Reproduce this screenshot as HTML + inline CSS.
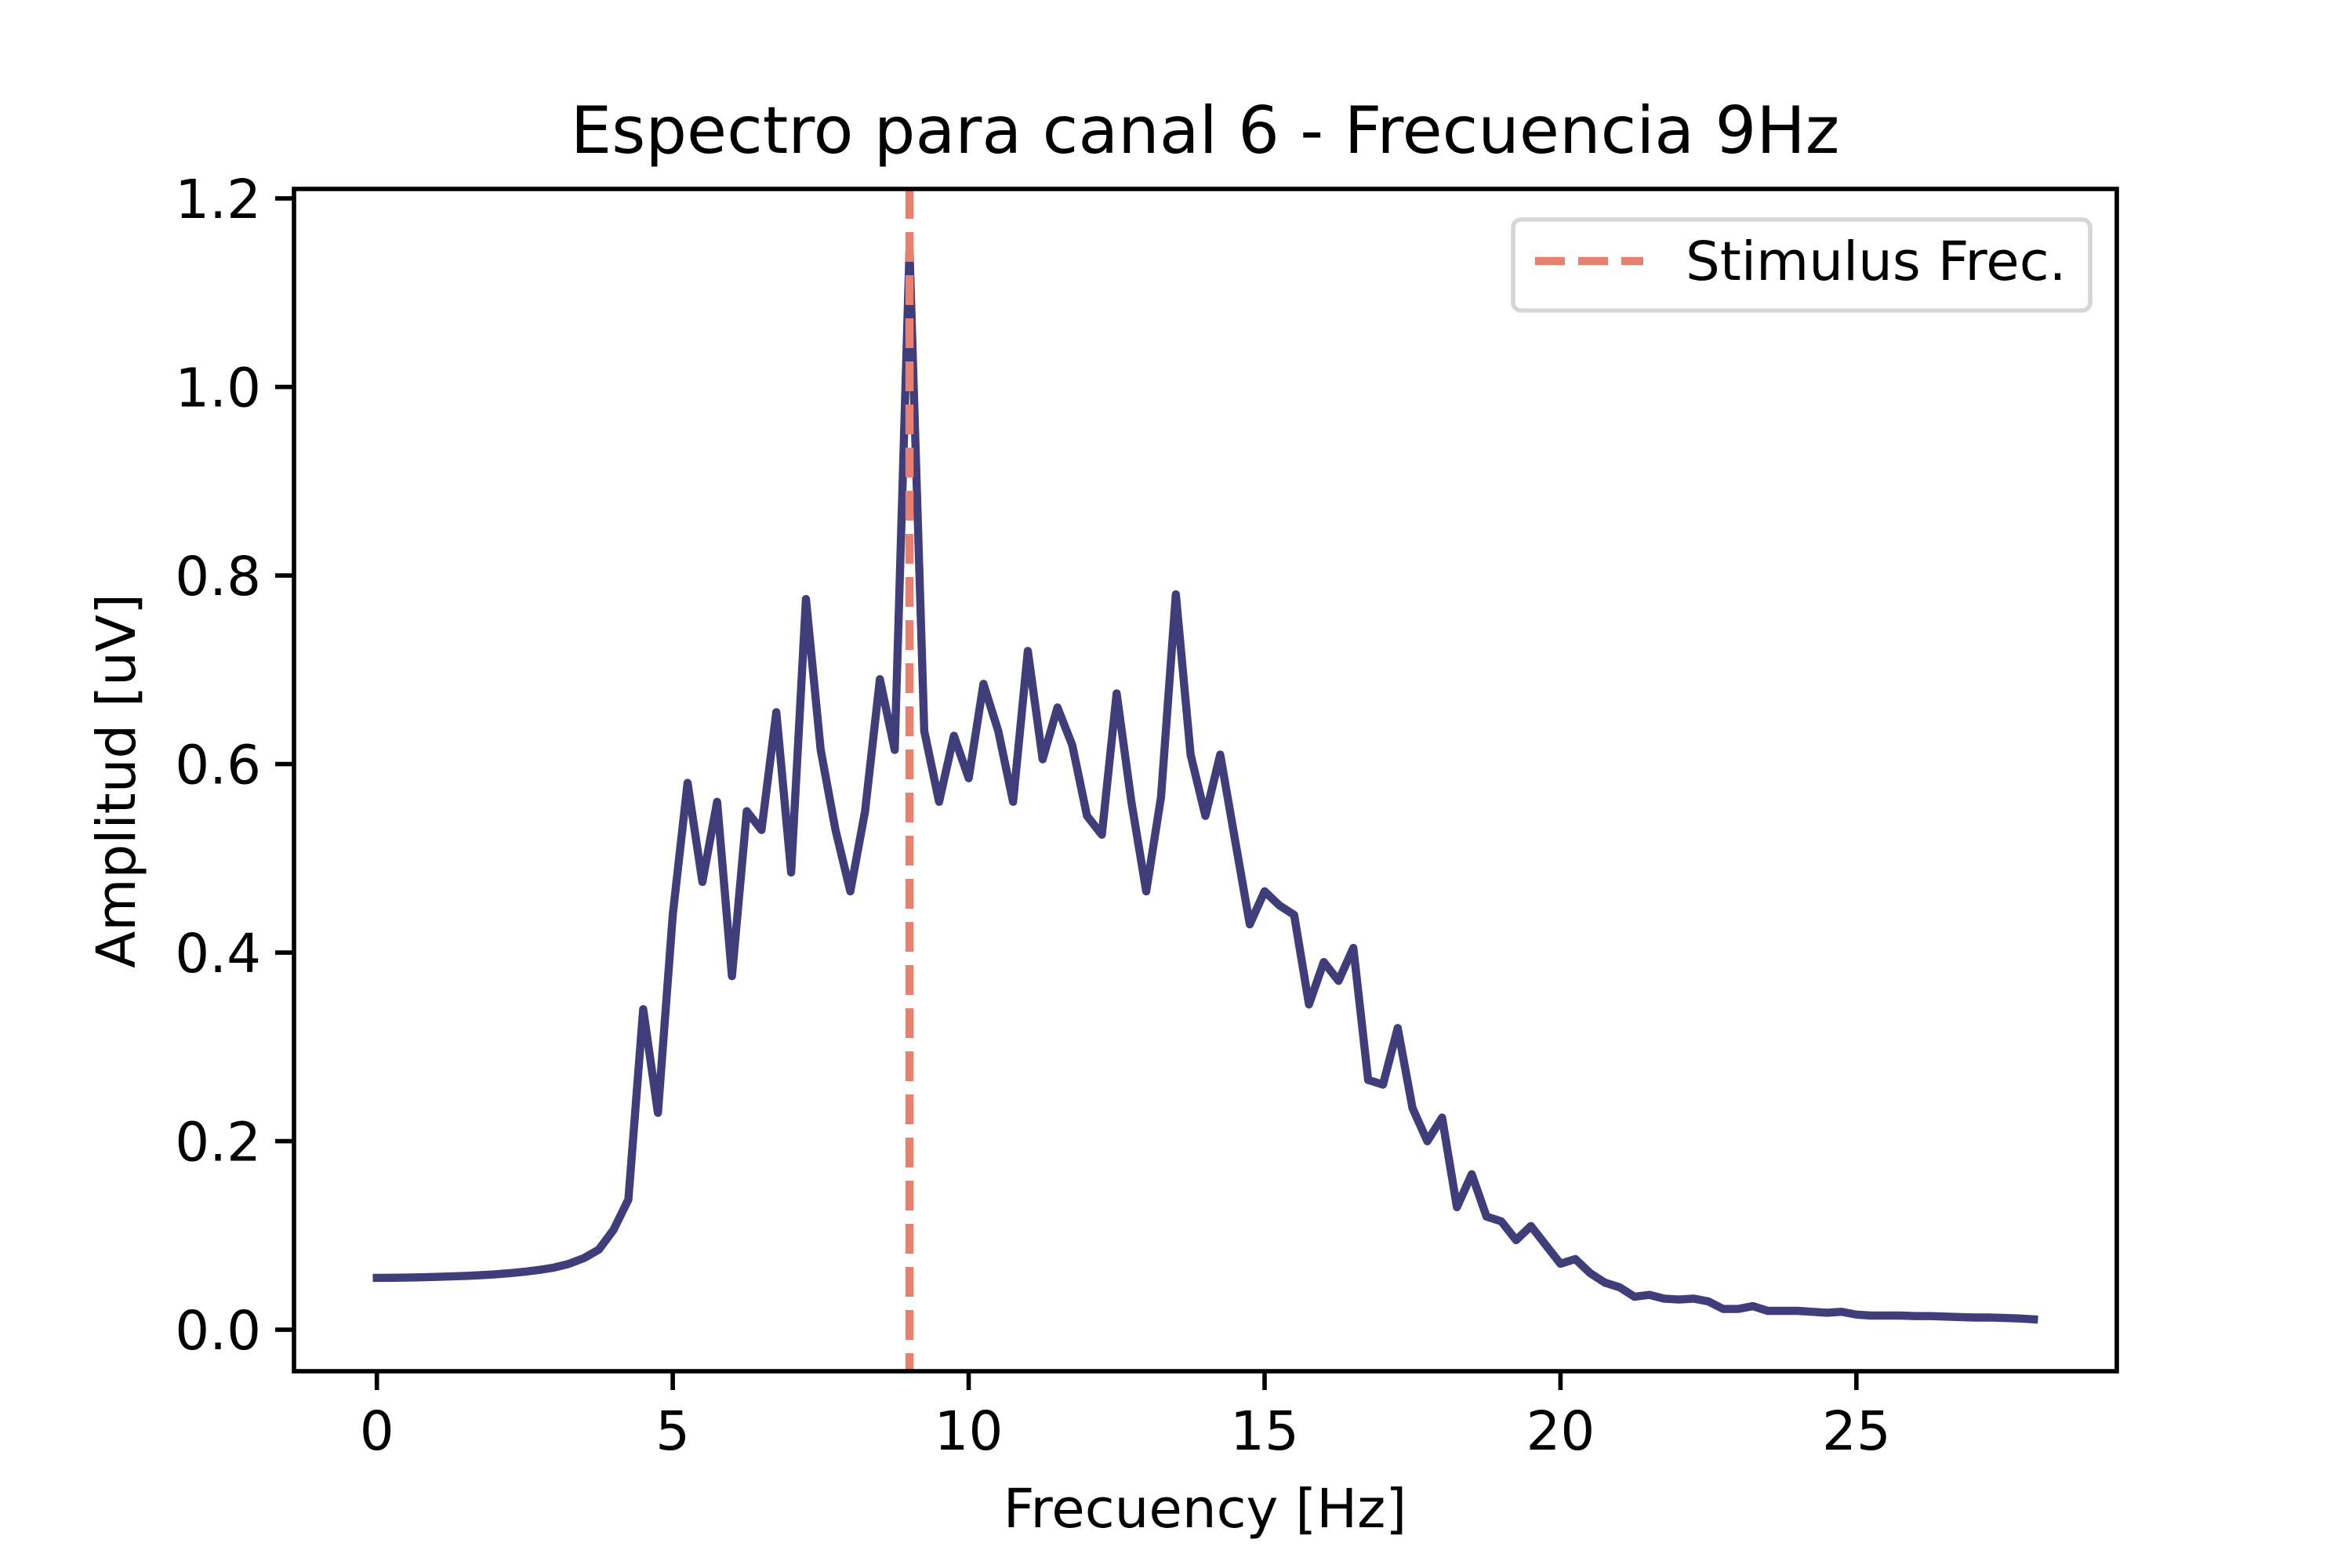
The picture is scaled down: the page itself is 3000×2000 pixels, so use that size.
<!DOCTYPE html>
<html><head><meta charset="utf-8"><style>
html,body{margin:0;padding:0;background:#fff;}
svg{display:block;font-family:"DejaVu Sans","Liberation Sans",sans-serif;}
</style></head><body>
<svg id="chart" width="3000" height="2000" viewBox="0 0 3000 2000" xmlns="http://www.w3.org/2000/svg">
<rect width="3000" height="2000" fill="#fff"/>
<text x="1537" y="195" font-size="83" text-anchor="middle">Espectro para canal 6 - Frecuencia 9Hz</text>
<g id="plot"></g>
<text x="1537" y="1948" font-size="69" text-anchor="middle">Frecuency [Hz]</text>
<text x="0" y="0" font-size="69" text-anchor="middle" transform="translate(172,996) rotate(-90)">Amplitud [uV]</text>
</svg>
<script>
const freqStep = 0.25;
const amplitudes = [0.0550,0.0551,0.0553,0.0556,0.0560,0.0565,0.0571,0.0579,0.0588,0.0600,0.0615,0.0635,0.0660,0.0700,0.0760,0.0850,0.1060,0.1380,
0.34,0.23,0.44,0.58,0.475,0.56,0.375,0.55,0.53,0.655,0.485,0.775,0.615,0.53,0.465,0.55,0.69,0.615,1.145,
0.635,0.56,0.63,0.585,0.685,0.635,0.56,0.72,0.605,0.66,0.62,0.545,0.525,0.675,0.56,0.465,0.565,0.78,0.61,0.545,0.61,0.52,0.43,0.465,0.45,0.44,0.345,0.39,0.37,0.405,0.265,0.26,0.32,0.235,0.2,0.225,0.13,0.165,0.12,0.115,0.095,0.11,0.09,0.07,0.075,0.06,0.05,0.045,0.035,0.037,0.033,0.032,0.033,0.03,0.022,0.022,0.025,
0.02,0.02,0.02,0.019,0.018,0.019,0.016,0.015,0.015,0.015,0.0145,0.0145,0.014,0.0135,0.013,0.013,0.0125,0.012,0.011];
const xTicks = [0,5,10,15,20,25];
const yTicks = [0.0,0.2,0.4,0.6,0.8,1.0,1.2];
const stimulusFreq = 9;

const L=375,R=2700,T=241,B=1749;
const xMin=-1.4,xMax=29.4,yMin=-0.044,yMax=1.21;
const sx=v=>L+(v-xMin)/(xMax-xMin)*(R-L);
const sy=v=>B-(v-yMin)/(yMax-yMin)*(B-T);
const NS="http://www.w3.org/2000/svg";
const g=document.getElementById('plot');
function mk(tag,attrs){const e=document.createElementNS(NS,tag);for(const k in attrs)e.setAttribute(k,attrs[k]);g.appendChild(e);return e;}

xTicks.forEach(t=>{
  const l=mk('line',{x1:sx(t),x2:sx(t),y1:B,y2:B+24,stroke:'#000','stroke-width':5.6});
  
  
  const tx=mk('text',{x:sx(t),y:B+100,'font-size':69,'text-anchor':'middle'});
  tx.textContent=String(t);
  
  
});
yTicks.forEach(t=>{
  const l=mk('line',{x1:L-24,x2:L,y1:sy(t),y2:sy(t),stroke:'#000','stroke-width':5.6});
  
  
  const tx=mk('text',{x:L-42,y:sy(t)+25,'font-size':69,'text-anchor':'end'});
  tx.textContent=t.toFixed(1);
  
  
});

const pts=amplitudes.map((a,i)=>sx(i*freqStep).toFixed(1)+','+sy(a).toFixed(1)).join(' ');
const line=mk('polyline',{points:pts,fill:'none',stroke:'#3f3d7a','stroke-width':10.4,'stroke-linejoin':'round','stroke-linecap':'square'});



const sl=mk('line',{x1:sx(stimulusFreq),x2:sx(stimulusFreq),y1:T,y2:B,stroke:'#e8806f','stroke-width':10.4,'stroke-dasharray':'38 17'});



const fr=mk('rect',{x:L,y:T,width:R-L,height:B-T,fill:'none',stroke:'#000','stroke-width':5.6});



const lg=mk('rect',{x:1930,y:280,width:736,height:116,rx:10,fill:'#fff','fill-opacity':0.8,stroke:'#d6d6d6','stroke-width':5.6});


const ll=mk('line',{x1:1958,x2:2096,y1:333,y2:333,stroke:'#e8806f','stroke-width':10.4,'stroke-dasharray':'38 17'});


const lt=mk('text',{x:2150,y:357,'font-size':69});
lt.textContent='Stimulus Frec.';


</script>
</body></html>
